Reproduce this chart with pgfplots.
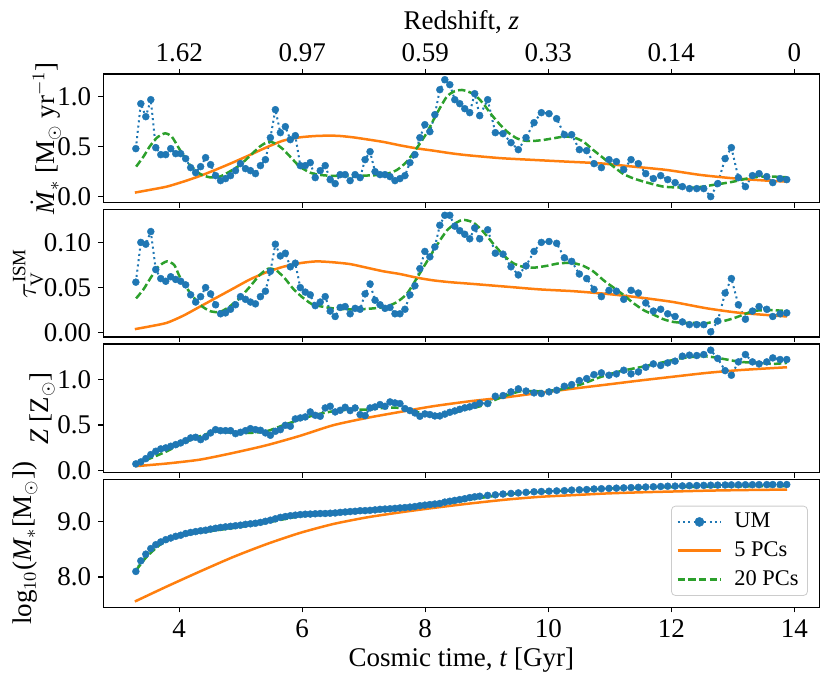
\documentclass[border=0pt]{standalone}
\usepackage{pgfplots}
\pgfplotsset{compat=1.18}
\usepackage{pgfplotstable}
\usepackage{amsmath}
\usepackage{fontspec}
\setmainfont{Liberation Serif}
\definecolor{tabblue}{RGB}{31,119,180}
\definecolor{taborange}{RGB}{255,127,14}
\definecolor{tabgreen}{RGB}{44,160,44}

\pgfplotstableread{
t sfr tau Z logM
3.296 0.48 0.056 0.072 8.10
3.377 0.93 0.100 0.094 8.29
3.458 0.80 0.098 0.130 8.41
3.539 0.97 0.112 0.174 8.51
3.620 0.49 0.070 0.211 8.58
3.701 0.42 0.060 0.237 8.63
3.782 0.42 0.057 0.248 8.67
3.863 0.48 0.062 0.266 8.70
3.944 0.43 0.059 0.284 8.73
4.025 0.43 0.057 0.303 8.75
4.106 0.38 0.053 0.328 8.78
4.187 0.29 0.042 0.358 8.80
4.268 0.24 0.034 0.365 8.815
4.349 0.30 0.040 0.339 8.83
4.430 0.39 0.050 0.369 8.84
4.511 0.32 0.043 0.413 8.86
4.592 0.21 0.031 0.449 8.875
4.673 0.16 0.021 0.438 8.89
4.754 0.18 0.022 0.438 8.90
4.835 0.21 0.026 0.438 8.91
4.916 0.26 0.031 0.405 8.92
4.997 0.33 0.040 0.420 8.93
5.078 0.28 0.037 0.438 8.945
5.159 0.26 0.034 0.460 8.955
5.240 0.23 0.032 0.449 8.965
5.321 0.31 0.040 0.442 8.98
5.402 0.37 0.046 0.413 9.00
5.483 0.59 0.068 0.387 9.02
5.564 0.87 0.098 0.431 9.045
5.645 0.64 0.085 0.449 9.07
5.726 0.70 0.088 0.497 9.085
5.807 0.57 0.073 0.486 9.10
5.888 0.61 0.077 0.567 9.11
5.969 0.31 0.050 0.578 9.12
6.050 0.31 0.045 0.589 9.127
6.131 0.34 0.042 0.644 9.13
6.212 0.19 0.030 0.607 9.135
6.293 0.26 0.034 0.596 9.14
6.374 0.31 0.040 0.688 9.14
6.455 0.17 0.024 0.706 9.145
6.536 0.13 0.018 0.644 9.15
6.617 0.22 0.028 0.662 9.16
6.698 0.22 0.029 0.695 9.167
6.779 0.16 0.021 0.659 9.175
6.860 0.22 0.027 0.688 9.18
6.941 0.19 0.026 0.615 9.19
7.022 0.37 0.043 0.604 9.192
7.103 0.45 0.054 0.688 9.197
7.184 0.25 0.036 0.699 9.205
7.265 0.22 0.031 0.725 9.215
7.346 0.22 0.027 0.706 9.22
7.427 0.20 0.028 0.754 9.225
7.508 0.16 0.021 0.743 9.232
7.589 0.18 0.021 0.736 9.24
7.670 0.21 0.026 0.681 9.247
7.751 0.34 0.042 0.659 9.255
7.832 0.42 0.052 0.633 9.265
7.913 0.59 0.071 0.596 9.28
7.994 0.72 0.090 0.622 9.29
8.075 0.65 0.084 0.615 9.30
8.156 0.82 0.095 0.600 9.31
8.237 1.07 0.119 0.600 9.32
8.318 1.17 0.130 0.620 9.345
8.399 1.12 0.130 0.640 9.36
8.480 0.97 0.118 0.655 9.375
8.561 0.93 0.113 0.673 9.39
8.642 0.88 0.109 0.689 9.405
8.723 0.84 0.104 0.700 9.425
8.804 1.03 0.116 0.716 9.44
8.885 0.81 0.104 0.740 9.45
9.015 0.97 0.114 0.736 9.465
9.139 0.64 0.088 0.817 9.475
9.264 0.63 0.087 0.824 9.49
9.394 0.54 0.073 0.865 9.50
9.513 0.47 0.064 0.898 9.51
9.638 0.59 0.074 0.874 9.52
9.768 0.74 0.090 0.854 9.53
9.887 0.84 0.100 0.846 9.535
10.012 0.83 0.101 0.865 9.54
10.136 0.78 0.099 0.883 9.545
10.261 0.62 0.083 0.927 9.55
10.380 0.62 0.079 0.945 9.56
10.505 0.47 0.065 0.989 9.565
10.624 0.46 0.060 1.011 9.57
10.743 0.33 0.048 1.055 9.58
10.863 0.29 0.040 1.074 9.585
10.987 0.37 0.047 1.048 9.59
11.107 0.35 0.046 1.063 9.595
11.226 0.27 0.037 1.103 9.60
11.345 0.37 0.047 1.063 9.605
11.464 0.33 0.044 1.085 9.61
11.584 0.23 0.033 1.136 9.615
11.708 0.18 0.024 1.173 9.62
11.827 0.21 0.026 1.155 9.625
11.941 0.17 0.021 1.184 9.63
12.061 0.14 0.018 1.203 9.632
12.180 0.10 0.012 1.258 9.635
12.294 0.08 0.009 1.269 9.64
12.413 0.08 0.009 1.265 9.642
12.527 0.08 0.009 1.276 9.645
12.640 0.00 0.001 1.324 9.648
12.754 0.13 0.013 1.233 9.65
12.874 0.38 0.044 1.099 9.652
12.976 0.49 0.060 1.048 9.654
13.090 0.19 0.031 1.195 9.655
13.204 0.10 0.015 1.276 9.656
13.318 0.21 0.024 1.195 9.657
13.426 0.23 0.029 1.173 9.658
13.551 0.20 0.026 1.195 9.659
13.649 0.14 0.018 1.239 9.66
13.768 0.18 0.021 1.221 9.66
13.876 0.17 0.022 1.221 9.66
}\umdata

\newcommand{\bigf}{\fontsize{13.5}{16}\selectfont}
\newcommand{\legf}{\fontsize{11.2}{13.5}\selectfont}

\pgfplotsset{
  panel/.style={
    scale only axis, width=358pt,
    xmin=2.767, xmax=14.405,
    tick align=outside, major tick length=2.5pt,
    xtick={4,6,8,10,12,14},
    ytick pos=left,
    axis line style={line width=0.6pt},
    every tick/.style={line width=0.6pt, black},
    tick label style={font=\bigf},
    label style={font=\bigf},
    /pgf/number format/assume math mode=true,
    every axis y label/.style={rotate=90, anchor=center, font=\bigf},
  },
  um/.style={tabblue, line width=1pt, dash pattern=on 1pt off 1.65pt,
    mark=*, mark size=1.75pt, mark options={solid, fill=tabblue, draw=tabblue, line width=0.2pt}},
  pcfive/.style={taborange, line width=1.25pt, smooth, tension=0.4, no marks},
  pctwenty/.style={tabgreen, line width=1.25pt, dash pattern=on 3.7pt off 1.6pt, smooth, tension=0.4, no marks},
}

\begin{document}
\begin{tikzpicture}
\path[use as bounding box] (0,0) rectangle (415.5pt,-342pt);

% ---------- panel 1: SFR ----------
\begin{axis}[panel, name=ax1, at={(51.65pt,-37pt)}, anchor=north west, height=64.3pt,
  ymin=-0.06, ymax=1.227, ytick={0,0.5,1}, yticklabels={0.0,0.5,1.0},
  xtick pos=both, xticklabel pos=right,
  xticklabels={1.62,0.97,0.59,0.33,0.14,0},
  xlabel={Redshift, \textit{z}},
  xlabel style={at={(rel axis cs:0.5,1)}, anchor=base, yshift=22pt},
  ylabel={$\dot{\text{\textit{M}}}_*$ [M$_\odot$ yr$^{-1}$]},
  ylabel style={at={(rel axis cs:-0.0804,0.5)}},
]
\addplot[um] table[x=t,y=sfr] {\umdata};
\addplot[pcfive] coordinates {(3.28,0.04) (3.52,0.067) (3.80,0.10) (4.07,0.15) (4.34,0.207) (4.61,0.273) (4.88,0.343) (5.15,0.417) (5.42,0.493) (5.69,0.56) (5.96,0.593) (6.23,0.607) (6.45,0.61) (6.61,0.607) (6.83,0.593) (7.05,0.573) (7.32,0.547) (7.59,0.513) (7.86,0.483) (8.13,0.46) (8.40,0.435) (8.67,0.415) (9.22,0.385) (9.76,0.367) (10.30,0.35) (10.84,0.333) (11.38,0.30) (11.92,0.267) (12.47,0.217) (13.01,0.183) (13.55,0.16) (13.88,0.15)};
\addplot[pctwenty] coordinates {(3.30,0.30) (3.42,0.40) (3.52,0.50) (3.64,0.59) (3.77,0.633) (3.88,0.60) (4.01,0.47) (4.17,0.32) (4.34,0.227) (4.50,0.193) (4.66,0.20) (4.82,0.25) (4.99,0.317) (5.15,0.407) (5.31,0.50) (5.45,0.55) (5.56,0.533) (5.69,0.473) (5.83,0.383) (5.96,0.30) (6.13,0.24) (6.29,0.217) (6.50,0.207) (6.72,0.207) (6.94,0.21) (7.16,0.213) (7.37,0.227) (7.54,0.267) (7.70,0.35) (7.86,0.483) (8.02,0.633) (8.19,0.833) (8.35,1.00) (8.48,1.055) (8.60,1.067) (8.72,1.045) (8.81,1.017) (8.94,0.933) (9.08,0.817) (9.22,0.717) (9.35,0.64) (9.49,0.583) (9.62,0.56) (9.76,0.557) (9.92,0.567) (10.08,0.583) (10.25,0.60) (10.41,0.593) (10.57,0.55) (10.73,0.467) (10.90,0.383) (11.06,0.30) (11.22,0.227) (11.38,0.183) (11.55,0.15) (11.71,0.123) (11.87,0.10) (12.03,0.093) (12.20,0.09) (12.36,0.09) (12.52,0.10) (12.68,0.117) (12.85,0.133) (13.01,0.15) (13.17,0.173) (13.33,0.193) (13.50,0.20) (13.66,0.20) (13.88,0.193)};
\end{axis}

% ---------- panel 2: tau ----------
\begin{axis}[panel, name=ax2, at={(51.65pt,-104.85pt)}, anchor=north west, height=63.7pt,
  ymin=-0.0048, ymax=0.1362, ytick={0,0.05,0.1}, yticklabels={0.00,0.05,0.10},
  xtick pos=left, xticklabel={\relax},
  ylabel={$\tau^{\text{ISM}}_{\text{V}}$},
  ylabel style={at={(rel axis cs:-0.105,0.5)}},
]
\addplot[um] table[x=t,y=tau] {\umdata};
\addplot[pcfive] coordinates {(3.28,0.004) (3.52,0.007) (3.80,0.011) (4.07,0.019) (4.34,0.029) (4.61,0.039) (4.88,0.049) (5.15,0.059) (5.42,0.067) (5.69,0.073) (5.96,0.077) (6.23,0.079) (6.50,0.078) (6.78,0.076) (7.05,0.072) (7.32,0.068) (7.59,0.065) (7.86,0.061) (8.13,0.058) (8.40,0.056) (8.78,0.054) (9.32,0.051) (9.86,0.048) (10.41,0.046) (10.95,0.043) (11.49,0.039) (12.03,0.034) (12.58,0.027) (13.12,0.022) (13.88,0.018)};
\addplot[pctwenty] coordinates {(3.30,0.038) (3.42,0.048) (3.52,0.059) (3.66,0.073) (3.80,0.079) (3.92,0.075) (4.01,0.062) (4.17,0.045) (4.34,0.031) (4.50,0.024) (4.66,0.023) (4.82,0.029) (4.99,0.039) (5.15,0.051) (5.31,0.064) (5.45,0.071) (5.58,0.069) (5.72,0.060) (5.85,0.049) (5.99,0.040) (6.15,0.032) (6.32,0.029) (6.50,0.027) (6.72,0.026) (6.94,0.026) (7.16,0.027) (7.37,0.029) (7.54,0.034) (7.70,0.043) (7.86,0.060) (8.02,0.078) (8.19,0.097) (8.35,0.113) (8.51,0.122) (8.62,0.125) (8.78,0.122) (8.94,0.112) (9.10,0.099) (9.27,0.086) (9.43,0.077) (9.59,0.073) (9.76,0.072) (9.97,0.074) (10.19,0.077) (10.41,0.077) (10.57,0.074) (10.73,0.068) (10.90,0.058) (11.06,0.050) (11.22,0.042) (11.38,0.033) (11.55,0.025) (11.71,0.020) (11.87,0.015) (12.03,0.012) (12.20,0.011) (12.36,0.011) (12.52,0.010) (12.68,0.012) (12.85,0.013) (13.01,0.016) (13.17,0.020) (13.33,0.024) (13.50,0.025) (13.66,0.025) (13.88,0.024)};
\end{axis}

% ---------- panel 3: Z ----------
\begin{axis}[panel, name=ax3, at={(51.65pt,-172pt)}, anchor=north west, height=64.3pt,
  ymin=-0.024, ymax=1.392, ytick={0,0.5,1}, yticklabels={0.0,0.5,1.0},
  xtick pos=left, xticklabel={\relax},
  ylabel={\textit{Z} [Z$_\odot$]},
  ylabel style={at={(rel axis cs:-0.085,0.5)}},
]
\addplot[um] table[x=t,y=Z] {\umdata};
\addplot[pcfive] coordinates {(3.28,0.046) (3.80,0.076) (4.34,0.119) (4.88,0.193) (5.42,0.277) (5.96,0.38) (6.50,0.497) (7.05,0.578) (7.59,0.644) (8.13,0.707) (8.73,0.762) (9.32,0.806) (9.87,0.855) (10.41,0.901) (10.95,0.945) (11.49,0.99) (12.03,1.032) (12.58,1.074) (13.12,1.105) (13.88,1.136)};
\addplot[pctwenty] coordinates {(3.30,0.072) (3.52,0.13) (3.80,0.211) (4.07,0.303) (4.34,0.376) (4.61,0.431) (4.88,0.413) (5.15,0.413) (5.42,0.431) (5.69,0.497) (5.96,0.56) (6.23,0.615) (6.50,0.651) (6.78,0.67) (7.05,0.67) (7.32,0.688) (7.59,0.688) (7.86,0.644) (8.13,0.612) (8.40,0.625) (8.67,0.675) (8.89,0.706) (9.21,0.798) (9.54,0.87) (9.87,0.872) (10.19,0.89) (10.52,0.945) (10.84,1.026) (11.17,1.092) (11.49,1.136) (11.82,1.184) (12.14,1.232) (12.47,1.258) (12.68,1.247) (12.90,1.221) (13.12,1.195) (13.39,1.184) (13.66,1.173) (13.88,1.184)};
\end{axis}

% ---------- panel 4: log M ----------
\begin{axis}[panel, name=ax4, at={(51.65pt,-239.65pt)}, anchor=north west, height=64pt,
  ymin=7.456, ymax=9.754, ytick={8,9}, yticklabels={8.0,9.0},
  xtick pos=left, xticklabels={4,6,8,10,12,14},
  xlabel={Cosmic time, \textit{t} [Gyr]},
  xlabel style={at={(rel axis cs:0.5,0)}, anchor=base, yshift=-29.4pt},
  ylabel={log$_{10}$(\textit{M}$_*$[M$_\odot$])},
  ylabel style={at={(rel axis cs:-0.109,0.5)}},
  legend cell align=left,
  legend style={at={(rel axis cs:1,0)}, anchor=south east, xshift=-5.7pt, yshift=5.7pt,
    draw=black!20, fill=white, rounded corners=2pt, font=\legf,
    inner xsep=2.5pt, inner ysep=1.5pt, row sep=1.5pt,
    /tikz/every odd column/.append style={column sep=4pt}},
  legend image code/.code={\draw[mark repeat=2,mark phase=2,#1,mark size=2.3pt] plot coordinates {(0pt,0pt) (10.85pt,0pt) (21.7pt,0pt)};},
]
\addplot[um] table[x=t,y=logM] {\umdata};
\addlegendentry{UM}
\addplot[pcfive] coordinates {(3.28,7.56) (3.80,7.83) (4.34,8.10) (4.88,8.36) (5.42,8.59) (5.96,8.79) (6.50,8.95) (7.05,9.07) (7.59,9.16) (8.13,9.24) (8.73,9.32) (9.32,9.39) (9.87,9.44) (10.41,9.47) (10.95,9.50) (11.49,9.52) (12.03,9.535) (12.58,9.55) (13.12,9.56) (13.88,9.57)};
\addlegendentry{5 PCs}
\addplot[pctwenty] coordinates {(3.30,8.12) (3.47,8.36) (3.69,8.58) (3.90,8.70) (4.12,8.76) (4.34,8.80) (4.88,8.88) (5.42,8.975) (5.96,9.09) (6.50,9.132) (7.05,9.168) (7.59,9.216) (8.13,9.287) (8.67,9.377) (8.78,9.40) (9.32,9.485) (9.87,9.527) (10.41,9.557) (10.95,9.587) (11.49,9.604) (12.03,9.616) (12.58,9.622) (13.12,9.628) (13.88,9.634)};
\addlegendentry{20 PCs}
\end{axis}
\end{tikzpicture}
\end{document}
